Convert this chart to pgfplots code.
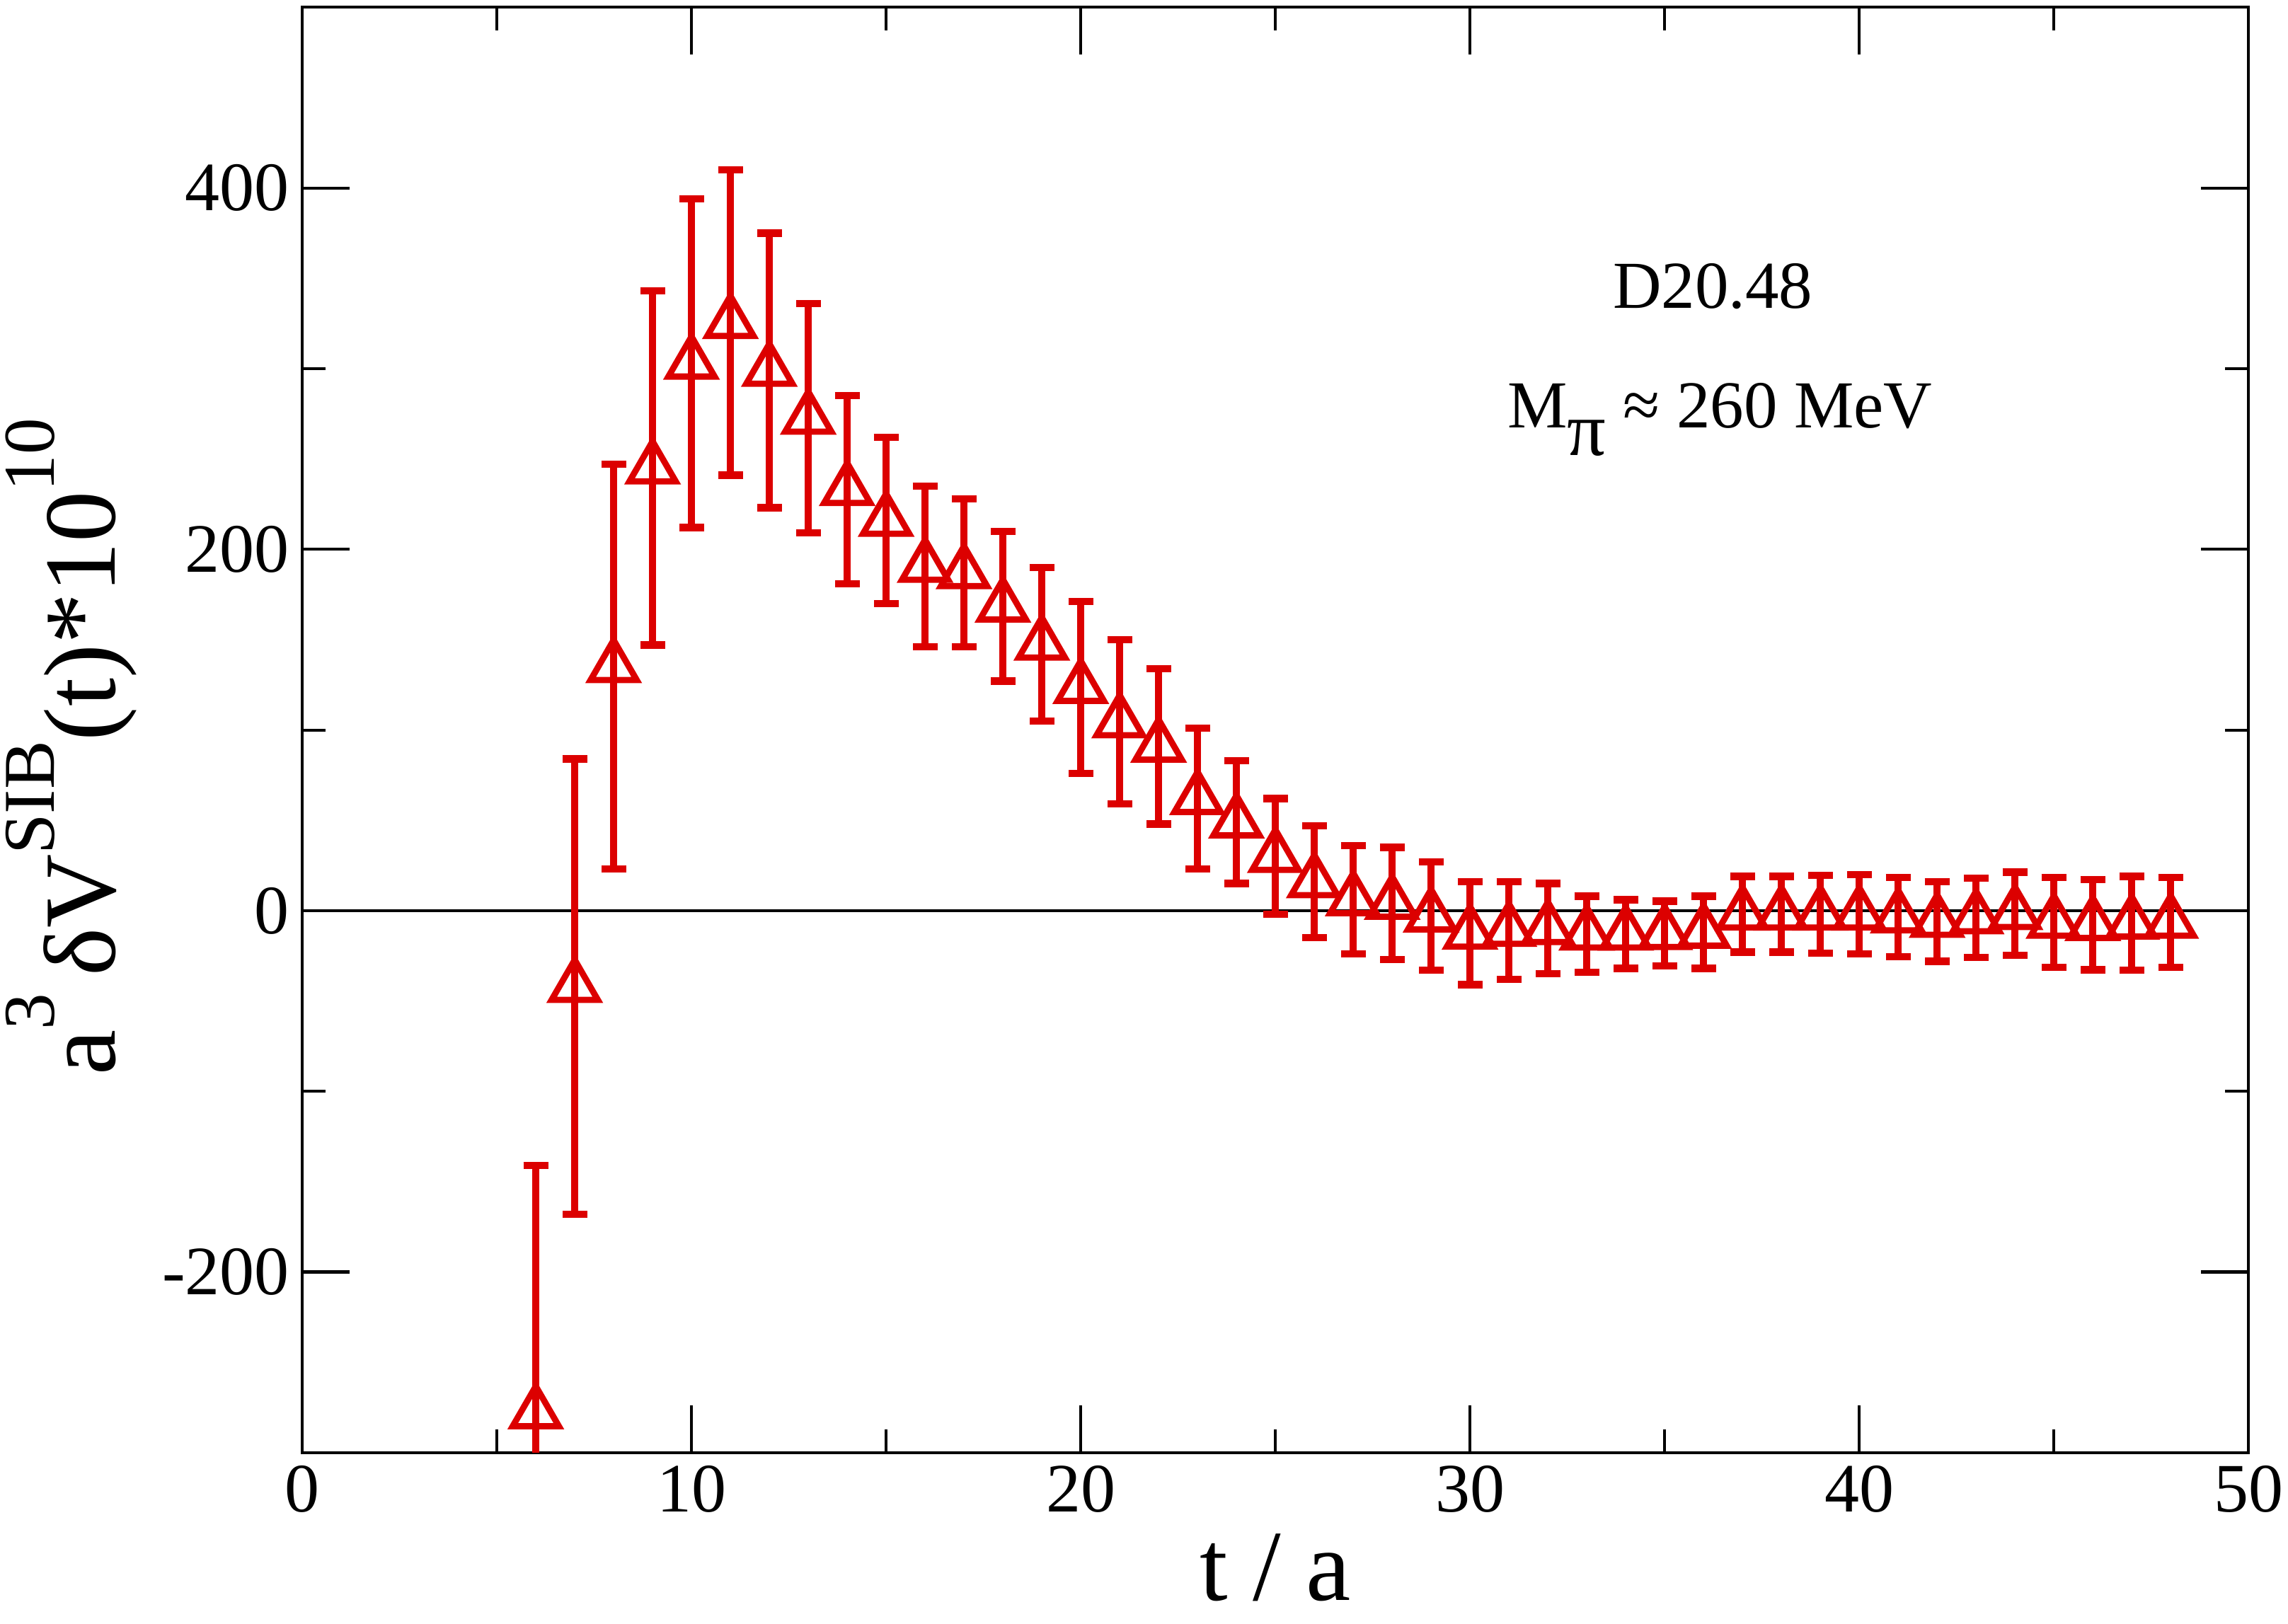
\documentclass[border=0pt]{standalone}
\usepackage{fontspec}
\setmainfont{Liberation Serif}
\usepackage{pgfplots}
\usepackage{pgfplotstable}
\pgfplotsset{compat=1.18}
\definecolor{dred}{RGB}{220,0,0}

\pgfplotstableread{
t v e
6 -278 137
7 -42 126
8 135 112
9 245 98
10 303 91
11 325.5 84.5
12 299 76
13 272.5 63.5
14 233 52
15 216 46
16 190.5 44.5
17 187 41
18 168.5 41.5
19 147.5 42.5
20 123.5 47.5
21 104.5 45.5
22 91 43
23 62 39
24 49 34
25 30 32
26 16 31
27 6 30
28 4 31
29 -3 30
30 -12.5 28.5
31 -11 27
32 -10 25
33 -13 21
34 -13 19
35 -12.7 18
36 -12 20
37 -2 21
38 -2 21
39 -2 21.5
40 -2 22
41 -3.5 22
42 -6 22
43 -4 22
44 -1.7 23
45 -6.5 25
46 -7.7 25
47 -7 26
48 -6.5 25
}\sib

\newcommand\sups[1]{\raisebox{16.8pt}{\fontsize{20}{24}\selectfont #1}}

\begin{document}
\begin{tikzpicture}
\path[use as bounding box] (-82.8pt,-46.8pt) rectangle (544pt,398pt);
\begin{axis}[
  at={(0,0)}, anchor=south west,
  scale only axis, width=533.2pt, height=396pt,
  xmin=0, xmax=50, ymin=-300, ymax=500,
  xtick={0,10,20,30,40,50}, xticklabels={0,10,20,30,40,50},
  minor xtick={5,15,25,35,45},
  ytick={-200,0,200,400}, yticklabels={-200,0,200,400},
  minor ytick={-100,100,300},
  tick align=inside,
  xtick pos=both, ytick pos=both,
  xticklabel pos=lower, yticklabel pos=left,
  major tick length=13pt, minor tick length=6.4pt,
  every tick/.style={black, line width=0.8pt},
  axis line style={line width=0.8pt},
  tick label style={font=\fontsize{19}{22}\selectfont},
]
\addplot[black, line width=0.9pt, forget plot] coordinates {(0,0) (50,0)};
\addplot[dred, line width=1.7pt, only marks, mark=triangle, mark size=7.3pt,
  error bars/.cd, y dir=both, y explicit,
  error bar style={line width=2pt, dred},
  error mark options={rotate=90, mark size=3.4pt, line width=2pt, dred}]
  table[x=t, y=v, y error=e] {\sib};
\end{axis}
\node[rotate=90, anchor=base, font=\fontsize{28}{32}\selectfont] at (-51.2pt,193.4pt)
  {a\sups{3}\,δV\sups{SIB}(t)*10\sups{10}};
\node[anchor=base, font=\fontsize{27.6}{32}\selectfont] at (266.6pt,-40.5pt) {t / a};
\node[anchor=base, font=\fontsize{18.4}{22}\selectfont] at (386.4pt,313.6pt) {D20.48};
\node[anchor=base, font=\fontsize{18.4}{22}\selectfont] at (388.4pt,280.8pt)
  {M\raisebox{-7.6pt}{\fontsize{21}{24}\selectfont π} ≈ 260 MeV};
\end{tikzpicture}
\end{document}
